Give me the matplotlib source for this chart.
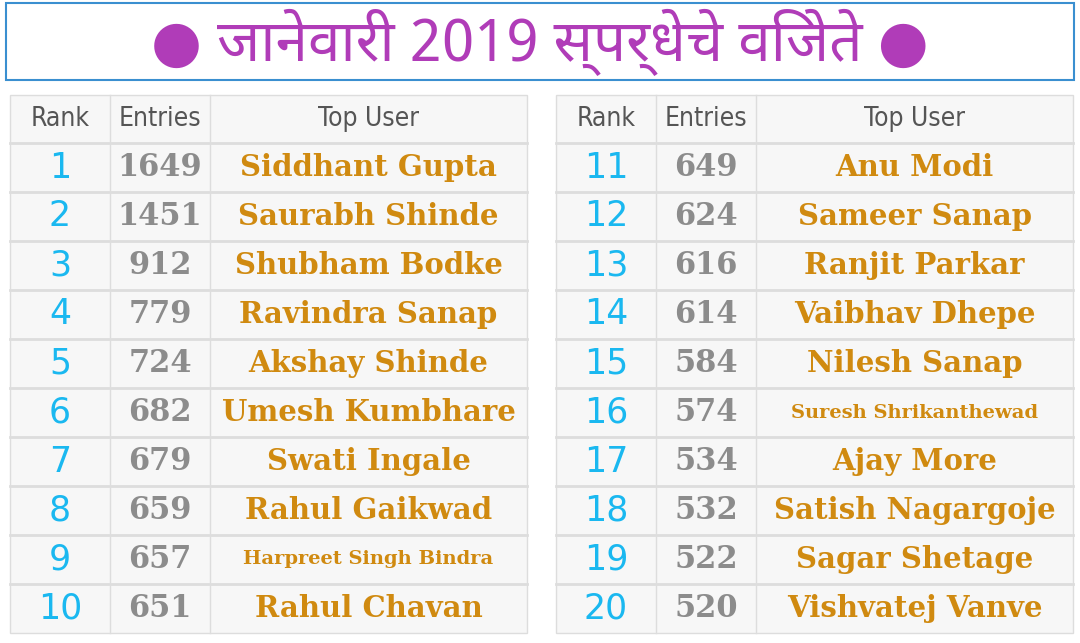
import matplotlib
matplotlib.use("Agg")
import matplotlib.pyplot as plt
from matplotlib.patches import Rectangle

title = "जानेवारी 2019 स्पर्धेचे विजेते"
headers = ["Rank", "Entries", "Top User"]
ranks = list(range(1, 21))
entries = [1649, 1451, 912, 779, 724, 682, 679, 659, 657, 651,
           649, 624, 616, 614, 584, 574, 534, 532, 522, 520]
users = ["Siddhant Gupta", "Saurabh Shinde", "Shubham Bodke", "Ravindra Sanap",
         "Akshay Shinde", "Umesh Kumbhare", "Swati Ingale", "Rahul Gaikwad",
         "Harpreet Singh Bindra", "Rahul Chavan",
         "Anu Modi", "Sameer Sanap", "Ranjit Parkar", "Vaibhav Dhepe",
         "Nilesh Sanap", "Suresh Shrikanthewad", "Ajay More", "Satish Nagargoje",
         "Sagar Shetage", "Vishvatej Vanve"]

fig = plt.figure(figsize=(10.8, 6.43), dpi=100)
ax = fig.add_axes([0, 0, 1, 1])
ax.set_xlim(0, 1080); ax.set_ylim(643, 0); ax.axis("off")

ax.add_patch(Rectangle((6, 3), 1068, 77, fill=False, ec="#3a8fd0", lw=1.5))
ax.text(540, 42, "● " + title + " ●", ha="center", va="center", fontsize=42,
        fontweight="heavy", color="#b03cb8",
        family=["Noto Sans Devanagari", "Noto Sans", "DejaVu Sans"])

def table(x0, start):
    cols = [x0, x0 + 100, x0 + 200, x0 + 517]
    top, hh, rh = 95, 48, 49
    ax.add_patch(Rectangle((x0, top), 517, hh + rh * 10, fc="#f7f7f7", ec="#dddddd", lw=1))
    for i, h in enumerate(headers):
        ax.text((cols[i] + cols[i + 1]) / 2, top + hh / 2, h, ha="center", va="center",
                fontsize=19, color="#555555", family="DejaVu Sans", fontstretch="condensed")
    for c in cols[1:-1]:
        ax.plot([c, c], [top, top + hh + rh * 10], color="#dddddd", lw=1)
    for r in range(10):
        y = top + hh + r * rh
        ax.plot([x0, x0 + 517], [y, y], color="#dddddd", lw=2)
        k = start + r
        yc = y + rh / 2
        ax.text((cols[0] + cols[1]) / 2, yc, str(ranks[k]), ha="center", va="center",
                fontsize=25, color="#1ab8f0", family="DejaVu Sans")
        ax.text((cols[1] + cols[2]) / 2, yc, str(entries[k]), ha="center", va="center",
                fontsize=22, fontweight="bold", color="#8c8c8c", family="DejaVu Serif")
        name = users[k]
        fs = 14 if len(name) > 18 else 21
        ax.text((cols[2] + cols[3]) / 2, yc, name, ha="center", va="center",
                fontsize=fs, fontweight="bold", color="#d08a10", family="DejaVu Serif")

table(10, 0)
table(556, 10)
fig.savefig("out.png", dpi=100)
